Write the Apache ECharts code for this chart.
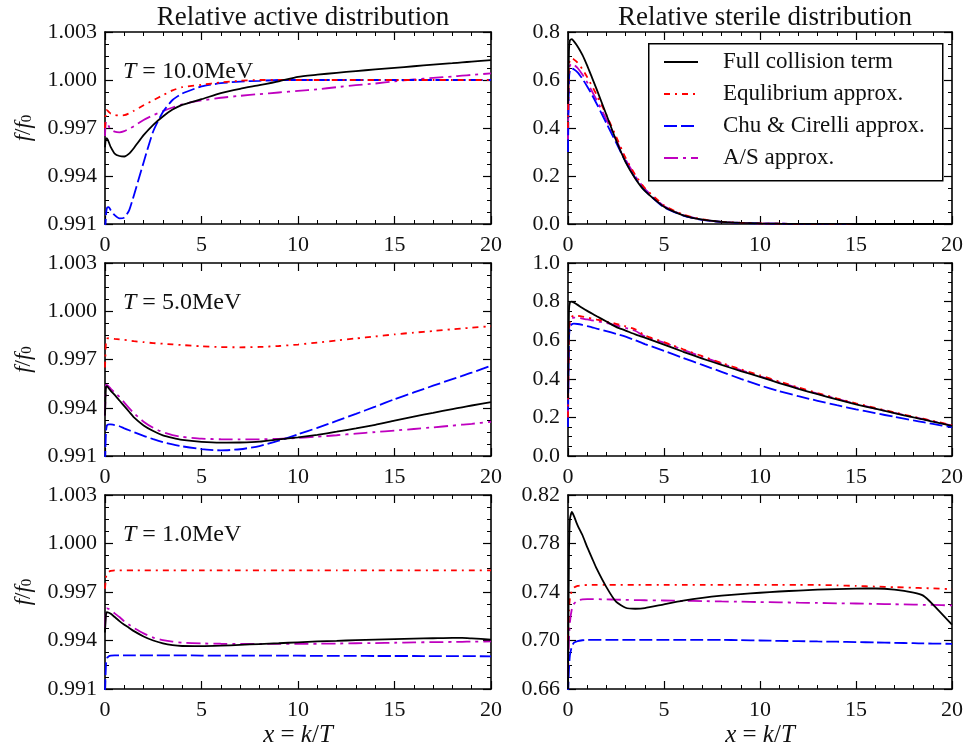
<!DOCTYPE html>
<html>
<head>
<meta charset="utf-8">
<script src="https://cdn.jsdelivr.net/npm/echarts@6/dist/echarts.min.js"></script>
<style>
html,body{margin:0;padding:0;background:#fff;}
#chart{width:966px;height:754px;}
</style>
</head>
<body>
<div id="chart"></div>
<script>
// ---------------- DATA ----------------
const xs = [0, 0.05, 0.1, 0.2, 0.3, 0.5, 0.75, 1, 1.25, 1.5, 2, 2.5, 3, 3.5, 4, 5, 6, 7, 8, 9, 10, 11, 12, 13, 14, 15, 16, 17, 18, 18.5, 19, 20];

const seriesNames = ['Full collision term', 'Equlibrium approx.', 'Chu & Cirelli approx.', 'A/S approx.'];
const xTickLabels = ['0', '5', '10', '15', '20'];
const panelLabels = ['10.0MeV', '5.0MeV', '1.0MeV'];
const columnTitles = ['Relative active distribution', 'Relative sterile distribution'];

// Active, T = 10 MeV
const act10Full = [0.9958, 0.99635, 0.99635, 0.9961, 0.9958, 0.9954, 0.99525, 0.99522, 0.9954, 0.99575, 0.99655, 0.9972, 0.99772, 0.99815, 0.99845, 0.9988, 0.99918, 0.99945, 0.99968, 0.99992, 1.0002, 1.00033, 1.00045, 1.00056, 1.00066, 1.00076, 1.00086, 1.00096, 1.00105, 1.0011, 1.00115, 1.00124];
const act10Eq = [0.9970, 0.9981, 0.99812, 0.998, 0.9979, 0.99782, 0.99778, 0.9978, 0.99792, 0.99808, 0.99842, 0.99873, 0.99905, 0.99935, 0.99955, 0.9997, 0.99985, 0.99995, 1.0, 1.0, 1.0, 1.0, 1.0, 1.0, 1.0, 1.0, 1.0, 1.0, 1.0, 1.0, 1.0, 1.0];
const act10Chu = [0.9905, 0.9915, 0.992, 0.99205, 0.99185, 0.99155, 0.99135, 0.9914, 0.99185, 0.9928, 0.99485, 0.9968, 0.998, 0.99875, 0.99915, 0.9996, 0.9998, 0.9999, 0.99995, 1.0, 1.0, 1.0, 1.0, 1.0, 1.0, 1.0, 1.0, 1.0, 1.0, 1.0, 1.0, 1.0];
const act10AS = [0.9965, 0.9974, 0.99738, 0.9971, 0.9969, 0.99677, 0.99673, 0.9968, 0.99695, 0.99712, 0.9975, 0.9978, 0.99805, 0.99828, 0.99848, 0.99872, 0.99889, 0.99901, 0.99912, 0.99922, 0.99932, 0.99942, 0.99955, 0.99968, 0.99978, 0.99992, 1.00003, 1.00013, 1.00022, 1.00027, 1.00032, 1.00041];

// Active, T = 5 MeV
const act5Full = [0.9935, 0.9953, 0.99535, 0.9952, 0.99505, 0.9948, 0.99445, 0.9941, 0.99375, 0.9934, 0.9929, 0.99255, 0.99228, 0.99212, 0.992, 0.99188, 0.99183, 0.99184, 0.99189, 0.99203, 0.99216, 0.99232, 0.99251, 0.99272, 0.99294, 0.9932, 0.99345, 0.99368, 0.99392, 0.99403, 0.99414, 0.99435];
const act5Eq = [0.9965, 0.9981, 0.9983, 0.99832, 0.99831, 0.99828, 0.99825, 0.99822, 0.99818, 0.99814, 0.99808, 0.99802, 0.99798, 0.99794, 0.9979, 0.99782, 0.99777, 0.99776, 0.99778, 0.99784, 0.99793, 0.99805, 0.99818, 0.99831, 0.99843, 0.99856, 0.99867, 0.99877, 0.99888, 0.99893, 0.99898, 0.99907];
const act5Chu = [0.9905, 0.9925, 0.9929, 0.99297, 0.99296, 0.99292, 0.99285, 0.99272, 0.9926, 0.99248, 0.99225, 0.99205, 0.99187, 0.99172, 0.9916, 0.99143, 0.99135, 0.99142, 0.99162, 0.99195, 0.99235, 0.99275, 0.99318, 0.99362, 0.99407, 0.99453, 0.99495, 0.99537, 0.99578, 0.99598, 0.99618, 0.99662];
const act5AS = [0.9935, 0.9954, 0.99542, 0.99532, 0.99518, 0.99495, 0.99468, 0.99432, 0.99398, 0.99366, 0.99313, 0.99275, 0.99248, 0.9923, 0.99219, 0.99208, 0.99204, 0.99203, 0.99204, 0.99207, 0.99212, 0.9922, 0.99229, 0.99239, 0.99249, 0.99258, 0.99268, 0.99278, 0.99289, 0.99295, 0.993, 0.99313];

// Active, T = 1 MeV
const act1Full = [0.9945, 0.9956, 0.99576, 0.99572, 0.99565, 0.99545, 0.9952, 0.99498, 0.99478, 0.99458, 0.99425, 0.994, 0.99382, 0.99371, 0.99366, 0.99365, 0.99368, 0.99373, 0.99378, 0.99383, 0.99389, 0.99394, 0.99398, 0.99402, 0.99406, 0.99409, 0.99412, 0.99414, 0.99416, 0.99416, 0.99413, 0.99406];
const act1Eq = [0.9972, 0.9979, 0.9981, 0.99825, 0.9983, 0.99834, 0.99834, 0.99834, 0.99834, 0.99834, 0.99834, 0.99834, 0.99834, 0.99834, 0.99834, 0.99834, 0.99834, 0.99834, 0.99834, 0.99834, 0.99834, 0.99834, 0.99834, 0.99834, 0.99834, 0.99834, 0.99834, 0.99834, 0.99834, 0.99834, 0.99834, 0.99834];
const act1Chu = [0.9908, 0.9925, 0.9929, 0.99303, 0.99307, 0.99308, 0.99308, 0.99308, 0.99308, 0.99308, 0.99308, 0.99308, 0.99308, 0.99308, 0.99308, 0.99307, 0.99307, 0.99307, 0.99306, 0.99306, 0.99306, 0.99305, 0.99305, 0.99305, 0.99304, 0.99304, 0.99304, 0.99303, 0.99303, 0.99303, 0.99303, 0.99302];
const act1AS = [0.9948, 0.9958, 0.99598, 0.99595, 0.99588, 0.99568, 0.99545, 0.99518, 0.99497, 0.99477, 0.99444, 0.99418, 0.99403, 0.99393, 0.99387, 0.99382, 0.9938, 0.99379, 0.99379, 0.99379, 0.9938, 0.9938, 0.99381, 0.99383, 0.99384, 0.99386, 0.99388, 0.9939, 0.99391, 0.99392, 0.99393, 0.99394];

// Sterile, T = 10 MeV
const ster10Full = [0.5, 0.72, 0.765, 0.77, 0.762, 0.74, 0.705, 0.66, 0.61, 0.56, 0.455, 0.35, 0.258, 0.19, 0.138, 0.072, 0.036, 0.018, 0.009, 0.0045, 0.0023, 0.0012, 0.0006, 0.0003, 0.0002, 0.0001, 0.0001, 0, 0, 0, 0, 0];
const ster10Eq = [0.4, 0.66, 0.685, 0.69, 0.686, 0.672, 0.645, 0.612, 0.575, 0.537, 0.455, 0.365, 0.275, 0.205, 0.15, 0.078, 0.039, 0.019, 0.0095, 0.0048, 0.0024, 0.0012, 0.0006, 0.0003, 0.0002, 0.0001, 0.0001, 0, 0, 0, 0, 0];
const ster10Chu = [0.3, 0.6, 0.64, 0.648, 0.645, 0.632, 0.605, 0.573, 0.538, 0.5, 0.42, 0.34, 0.26, 0.192, 0.14, 0.07, 0.035, 0.017, 0.0085, 0.0043, 0.0022, 0.0011, 0.0006, 0.0003, 0.0002, 0.0001, 0.0001, 0, 0, 0, 0, 0];
const ster10AS = [0.35, 0.63, 0.66, 0.668, 0.664, 0.65, 0.623, 0.59, 0.553, 0.515, 0.435, 0.352, 0.268, 0.2, 0.146, 0.075, 0.037, 0.018, 0.009, 0.0046, 0.0023, 0.0012, 0.0006, 0.0003, 0.0002, 0.0001, 0.0001, 0, 0, 0, 0, 0];

// Sterile, T = 5 MeV
const ster5Full = [0.3, 0.75, 0.795, 0.8, 0.795, 0.783, 0.767, 0.752, 0.738, 0.724, 0.697, 0.669, 0.65, 0.63, 0.613, 0.577, 0.54, 0.505, 0.472, 0.44, 0.41, 0.378, 0.348, 0.32, 0.293, 0.268, 0.245, 0.222, 0.2, 0.19, 0.178, 0.156];
const ster5Eq = [0.2, 0.65, 0.705, 0.722, 0.727, 0.726, 0.722, 0.717, 0.712, 0.707, 0.697, 0.685, 0.672, 0.657, 0.625, 0.59, 0.553, 0.517, 0.482, 0.449, 0.418, 0.386, 0.355, 0.326, 0.299, 0.273, 0.249, 0.226, 0.203, 0.193, 0.182, 0.16];
const ster5Chu = [0.15, 0.6, 0.67, 0.683, 0.686, 0.684, 0.679, 0.673, 0.667, 0.66, 0.647, 0.633, 0.618, 0.6, 0.58, 0.545, 0.508, 0.472, 0.436, 0.4, 0.366, 0.336, 0.31, 0.286, 0.263, 0.242, 0.222, 0.203, 0.184, 0.175, 0.166, 0.148];
const ster5AS = [0.2, 0.64, 0.695, 0.712, 0.717, 0.716, 0.712, 0.708, 0.703, 0.698, 0.689, 0.677, 0.664, 0.649, 0.62, 0.587, 0.55, 0.514, 0.479, 0.445, 0.413, 0.382, 0.352, 0.323, 0.296, 0.27, 0.246, 0.223, 0.201, 0.191, 0.18, 0.158];

// Sterile, T = 1 MeV
const ster1Full = [0.66, 0.77, 0.8, 0.806, 0.803, 0.795, 0.787, 0.777, 0.768, 0.759, 0.744, 0.732, 0.727, 0.7262, 0.7267, 0.7298, 0.7328, 0.7352, 0.737, 0.7383, 0.7394, 0.7404, 0.7412, 0.7419, 0.7424, 0.7428, 0.7429, 0.742, 0.7395, 0.737, 0.7298, 0.713];
const ster1Eq = [0.70, 0.725, 0.735, 0.741, 0.7435, 0.745, 0.7455, 0.7458, 0.7458, 0.7458, 0.7458, 0.7458, 0.7458, 0.7458, 0.7458, 0.7458, 0.7458, 0.7458, 0.7458, 0.7458, 0.7458, 0.7458, 0.7458, 0.7458, 0.7455, 0.745, 0.7445, 0.744, 0.7435, 0.7432, 0.743, 0.7423];
const ster1Chu = [0.655, 0.676, 0.688, 0.695, 0.698, 0.6995, 0.7002, 0.7005, 0.7005, 0.7005, 0.7005, 0.7005, 0.7005, 0.7005, 0.7005, 0.7005, 0.7005, 0.7005, 0.7005, 0.7003, 0.7, 0.6997, 0.6995, 0.6992, 0.699, 0.6987, 0.6984, 0.6981, 0.6978, 0.6976, 0.6975, 0.6972];
const ster1AS = [0.67, 0.70, 0.715, 0.726, 0.73, 0.733, 0.734, 0.7342, 0.7342, 0.7341, 0.7339, 0.7337, 0.7335, 0.7333, 0.7332, 0.733, 0.7327, 0.7325, 0.7322, 0.732, 0.7317, 0.7315, 0.7312, 0.731, 0.7307, 0.7305, 0.7302, 0.7299, 0.7296, 0.7294, 0.7293, 0.7289];

// Tick label values
const activeTicks = ['0.991', '0.994', '0.997', '1.000', '1.003'];
const sterileTicksTop = ['0.0', '0.2', '0.4', '0.6', '0.8'];
const sterileTicksMid = ['0.0', '0.2', '0.4', '0.6', '0.8', '1.0'];
const sterileTicksBot = ['0.66', '0.70', '0.74', '0.78', '0.82'];

// --------------- BUILD ----------------
const FONT = 'Liberation Serif';
const panels = [
  {data: [act10Full, act10Eq, act10Chu, act10AS], tf: v => (v - 1) * 1000, min: -9, max: 3, interval: 3, fmt: v => (1 + v / 1000).toFixed(3), label: panelLabels[0]},
  {data: [ster10Full, ster10Eq, ster10Chu, ster10AS], tf: v => v, min: 0, max: 0.8, interval: 0.2, fmt: v => v.toFixed(1)},
  {data: [act5Full, act5Eq, act5Chu, act5AS], tf: v => (v - 1) * 1000, min: -9, max: 3, interval: 3, fmt: v => (1 + v / 1000).toFixed(3), label: panelLabels[1]},
  {data: [ster5Full, ster5Eq, ster5Chu, ster5AS], tf: v => v, min: 0, max: 1.0, interval: 0.2, fmt: v => v.toFixed(1)},
  {data: [act1Full, act1Eq, act1Chu, act1AS], tf: v => (v - 1) * 1000, min: -9, max: 3, interval: 3, fmt: v => (1 + v / 1000).toFixed(3), label: panelLabels[2]},
  {data: [ster1Full, ster1Eq, ster1Chu, ster1AS], tf: v => (v - 0.66) * 100, min: 0, max: 16, interval: 4, fmt: v => (0.66 + v / 100).toFixed(2)}
];
const gridPos = [
  {left: 105, top: 32, width: 386, height: 192},
  {left: 568, top: 32, width: 385, height: 192},
  {left: 105, top: 263, width: 386, height: 193},
  {left: 568, top: 263, width: 385, height: 193},
  {left: 105, top: 495, width: 386, height: 194},
  {left: 568, top: 495, width: 385, height: 194}
];
const styles = [
  {color: '#000000', type: 'solid'},
  {color: '#ff0000', type: [6, 5, 2, 5]},
  {color: '#0000ff', type: [13, 4]},
  {color: '#bf00bf', type: [14, 5, 3, 5]}
];

const axisLine = {show: true, onZero: false, lineStyle: {color: '#000', width: 1.6}};
const tickBase = {show: true, inside: true, length: 8, lineStyle: {color: '#000', width: 1.2}};
const minorBase = {show: true, length: 4, lineStyle: {color: '#000', width: 1}};

const grid = gridPos.map(g => Object.assign({containLabel: false}, g));
const xAxis = [], yAxis = [], series = [];

panels.forEach((p, i) => {
  const isBottom = i >= 4;
  const isLeft = i % 2 === 0;
  xAxis.push({
    type: 'value', gridIndex: i, position: 'bottom', min: 0, max: 20, interval: 5,
    axisLine, axisTick: tickBase, minorTick: Object.assign({splitNumber: 5}, minorBase),
    splitLine: {show: false}, minorSplitLine: {show: false},
    axisLabel: {show: true, margin: 10, color: '#111', fontFamily: FONT, fontSize: 22,
      formatter: v => xTickLabels[Math.round(v / 5)]},
    name: isBottom ? '{i|x} = {i|k}/{i|T}' : '', nameLocation: 'middle', nameGap: 34,
    nameTextStyle: {color: '#111', fontFamily: FONT, fontSize: 25, rich: {i: {fontStyle: 'italic', fontFamily: FONT, fontSize: 25, color: '#111'}}}
  });
  xAxis.push({
    type: 'value', gridIndex: i, position: 'top', min: 0, max: 20, interval: 5,
    axisLine, axisTick: tickBase, minorTick: Object.assign({splitNumber: 5}, minorBase),
    splitLine: {show: false}, axisLabel: {show: false}
  });
  yAxis.push({
    type: 'value', gridIndex: i, position: 'left', min: p.min, max: p.max, interval: p.interval,
    axisLine, axisTick: tickBase, minorTick: Object.assign({splitNumber: 4}, minorBase),
    splitLine: {show: false}, minorSplitLine: {show: false},
    axisLabel: {show: true, margin: 8, color: '#111', fontFamily: FONT, fontSize: 22, formatter: p.fmt},
    name: isLeft ? '{i|f}/{i|f}{s|0}' : '', nameLocation: 'middle', nameRotate: 90, nameGap: 70,
    nameTextStyle: {color: '#111', fontFamily: FONT, fontSize: 23,
      rich: {i: {fontStyle: 'italic', fontFamily: FONT, fontSize: 23, color: '#111'},
             s: {fontFamily: FONT, fontSize: 15, color: '#111', verticalAlign: 'bottom', padding: [0, 0, 0, 0]}}}
  });
  yAxis.push({
    type: 'value', gridIndex: i, position: 'right', min: p.min, max: p.max, interval: p.interval,
    axisLine, axisTick: tickBase, minorTick: Object.assign({splitNumber: 4}, minorBase),
    splitLine: {show: false}, axisLabel: {show: false}
  });
  p.data.forEach((vals, k) => {
    series.push({
      name: seriesNames[k], type: 'line', xAxisIndex: 2 * i, yAxisIndex: 2 * i,
      data: xs.map((x, j) => [x, p.tf(vals[j])]),
      showSymbol: false, symbol: 'none', smooth: 0.2, clip: true, animation: false,
      lineStyle: {color: styles[k].color, width: 1.8, type: styles[k].type},
      itemStyle: {color: styles[k].color},
      z: 10 - k
    });
  });
});

const titles = [
  {text: columnTitles[0], left: 298, top: -1, textAlign: 'center', textStyle: {fontFamily: FONT, fontSize: 27, fontWeight: 'normal', color: '#111'}},
  {text: columnTitles[1], left: 760, top: -1, textAlign: 'center', textStyle: {fontFamily: FONT, fontSize: 27, fontWeight: 'normal', color: '#111'}}
];
[0, 2, 4].forEach((pi, r) => {
  titles.push({
    text: '{i|T} = ' + panels[pi].label, left: 118, top: gridPos[pi].top + 23,
    textStyle: {fontFamily: FONT, fontSize: 24, fontWeight: 'normal', color: '#111',
      rich: {i: {fontStyle: 'italic', fontFamily: FONT, fontSize: 24, color: '#111'}}}
  });
});

const option = {
  animation: false,
  backgroundColor: '#fff',
  title: titles,
  grid, xAxis, yAxis, series,
  legend: {
    data: seriesNames, orient: 'vertical', left: 663, top: 50, padding: 0,
    itemWidth: 34, itemHeight: 14, itemGap: 8,
    itemStyle: {opacity: 0},
    lineStyle: {width: 2},
    textStyle: {fontFamily: FONT, fontSize: 23, color: '#111', lineHeight: 24, padding: [0, 0, 0, 20]},
    selectedMode: false,
    z: 60
  },
  graphic: [{
    type: 'rect', left: 648, top: 43, z: 50,
    shape: {width: 294, height: 137},
    style: {fill: '#fff', stroke: '#000', lineWidth: 1.5}
  }]
};

const chart = echarts.init(document.getElementById('chart'), null, {renderer: 'canvas'});
chart.setOption(option);
</script>
</body>
</html>
